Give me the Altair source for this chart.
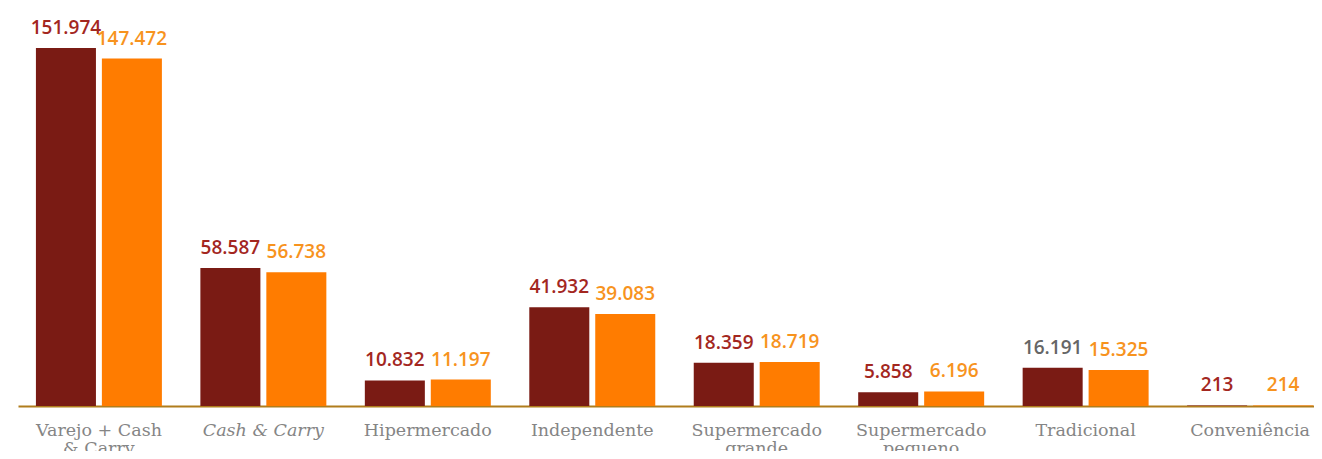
import altair as alt
import pandas as pd

categories = ["Varejo + Cash & Carry", "Cash & Carry", "Hipermercado", "Independente",
              "Supermercado grande", "Supermercado pequeno", "Tradicional", "Conveniência"]
series = ["2017", "2018"]
values_2017 = [151974, 58587, 10832, 41932, 18359, 5858, 16191, 213]
values_2018 = [147472, 56738, 11197, 39083, 18719, 6196, 15325, 214]

rows = []
for c, a, b in zip(categories, values_2017, values_2018):
    rows.append({"categoria": c, "serie": series[0], "valor": a})
    rows.append({"categoria": c, "serie": series[1], "valor": b})
df = pd.DataFrame(rows)

line_breaks = {
    "Varejo + Cash & Carry": ["Varejo + Cash", "& Carry"],
    "Supermercado grande": ["Supermercado", "grande"],
    "Supermercado pequeno": ["Supermercado", "pequeno"],
}
label_expr = "".join(
    f"datum.label == '{k}' ? {v!r} : " for k, v in line_breaks.items()
) + "datum.label"
label_expr = label_expr.replace('"', "'")

bar_colors = ["#7a1b14", "#ff7c00"]
text_colors = ["#a3271f", "#f7931e"]

x_enc = alt.X("categoria:N", sort=categories, title=None,
              scale=alt.Scale(range=[0, 1313], paddingInner=0.234, paddingOuter=0.109),
              axis=alt.Axis(labelExpr=label_expr, labelAngle=0, ticks=False, domain=True,
                            domainColor="#b07d1c", domainWidth=2, labelFont="DejaVu Serif",
                            labelFontSize=17.5, labelColor="#858585", labelPadding=15,
                            labelLineHeight=18,
                            labelFontStyle=alt.condition("datum.label == 'Cash & Carry'",
                                                         alt.value("italic"), alt.value("normal"))))
y_enc = alt.Y("valor:Q", scale=alt.Scale(domain=[0, 151974], nice=False), axis=None)
xo = alt.XOffset("serie:N", sort=series, scale=alt.Scale(paddingInner=0.09, paddingOuter=0))

base = alt.Chart(df).encode(x=x_enc, xOffset=xo, y=y_enc)

bars = base.mark_bar().encode(
    color=alt.Color("serie:N", sort=series, scale=alt.Scale(domain=series, range=bar_colors), legend=None)
)

labels = base.mark_text(baseline="bottom", dy=-10, font="Open Sans", fontSize=19, fontWeight=600).encode(
    text=alt.Text("valor:Q", format=",d"),
    color=alt.condition(
        "datum.categoria == 'Tradicional' && datum.serie == '2017'",
        alt.value("#666666"),
        alt.Color("serie:N", sort=series, scale=alt.Scale(domain=series, range=text_colors), legend=None),
    ),
)

chart = alt.layer(bars, labels).resolve_scale(color="independent").properties(
    width=1296, height=358,
    autosize=alt.AutoSizeParams(type="none"),
    padding={"left": 10, "top": 40, "right": 0, "bottom": 45},
).configure(
    view=alt.ViewConfig(stroke=None),
    locale={"number": {"decimal": ",", "thousands": ".", "grouping": [3], "currency": ["R$", ""]}},
)

chart.save("out.html", embed_options={"renderer": "svg", "actions": False})
